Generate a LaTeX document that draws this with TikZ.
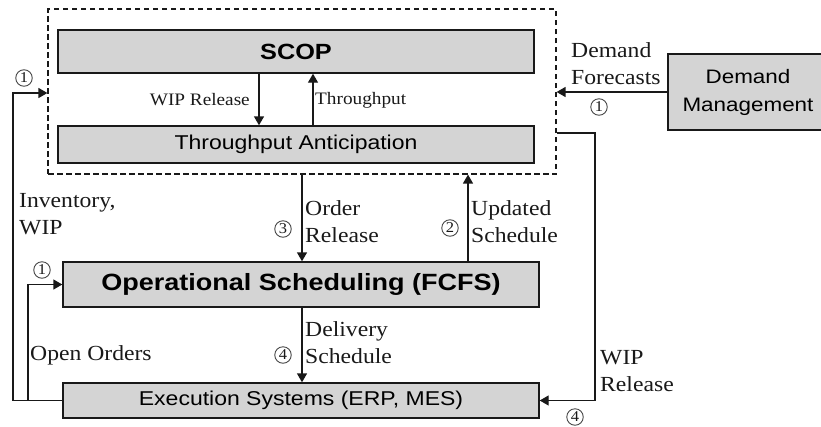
\documentclass[tikz,border=0pt]{standalone}
\usepackage{fontspec}
\usetikzlibrary{arrows.meta}
\newfontfamily\boxfont[FakeStretch=1.15]{Liberation Sans}
\newfontfamily\labfont[FakeStretch=1.1]{Liberation Serif}
\definecolor{boxgray}{RGB}{212,212,212}
\definecolor{ink}{RGB}{25,25,25}
\tikzset{
  x=1pt, y=-1pt,
  box/.style={draw=ink, line width=1.4pt, fill=boxgray, inner sep=0pt, rectangle},
  arr/.style={draw=ink, line width=1.4pt, -{Triangle[length=9pt,width=10pt]}},
  ln/.style={draw=ink, line width=1.4pt},
  lab/.style={font={\labfont\fontsize{21.5}{27}\selectfont}, inner sep=0pt, align=left, text=ink},
  slab/.style={font={\labfont\fontsize{17.5}{21}\selectfont}, inner sep=0pt, text=ink},
  num/.style={circle, draw=ink!80, line width=0.9pt, minimum size=16.5pt, inner sep=0pt, font={\labfont\fontsize{15}{15}\selectfont}, text=ink}
}
\begin{document}
\begin{tikzpicture}
\useasboundingbox (0,0) rectangle (821,426);
% dashed container
\node[draw=ink, line width=1.2pt, dash pattern=on 5.5pt off 3.5pt, minimum width=508pt, minimum height=165pt, inner sep=0pt] (dash) at (302,91.5) {};
% boxes
\node[box, minimum width=476pt, minimum height=43pt, font={\boxfont\bfseries\fontsize{22}{26}\selectfont}] (scop) at (296,51.5) {SCOP};
\node[box, minimum width=476pt, minimum height=37pt, font={\boxfont\fontsize{20}{24}\selectfont}] (ta) at (296,144.5) {Throughput Anticipation};
\node[box, minimum width=160pt, minimum height=76pt, align=center, font={\boxfont\fontsize{19.5}{28}\selectfont}] (dm) at (748,92) {Demand\\Management};
\node[box, minimum width=476pt, minimum height=45pt, font={\boxfont\bfseries\fontsize{23.5}{28}\selectfont}] (ops) at (301,284.5) {Operational Scheduling (FCFS)};
\node[box, minimum width=476pt, minimum height=35pt, font={\boxfont\fontsize{20}{24}\selectfont}] (es) at (301,400.5) {Execution Systems (ERP, MES)};
% coordinates
\coordinate (wr) at (595,400.5);
\coordinate (ol) at (13,400.5);
\coordinate (olt) at (13,93);
\coordinate (il) at (28,400.5);
% inner arrows
\draw[arr] ([xshift=-37pt]scop.south) -- ([xshift=-37pt]ta.north);
\draw[arr] ([xshift=17pt]ta.north) -- ([xshift=17pt]scop.south);
\node[slab, anchor=east] (lwip) at (250,100) {WIP Release};
\node[slab, anchor=west] (ltp) at (315,100) {Throughput};
% demand forecasts
\draw[arr] (dm.west) -- (dm.west -| dash.east);
\node[lab, anchor=west] (ldf) at (571,64) {Demand\\Forecasts};
\node[num] (n1b) at (599,107) {1};
% order release
\draw[arr] (dash.south) -- (dash.south |- ops.north);
\node[lab, anchor=west] (lor) at (305,222) {Order\\Release};
\node[num] (n3) at (283,229) {3};
% updated schedule
\draw[arr] ([xshift=167pt]ops.north) -- ([xshift=167pt]ops.north |- dash.south);
\node[lab, anchor=west] (lus) at (471,222) {Updated\\Schedule};
\node[num] (n2) at (450,228) {2};
% delivery schedule
\draw[arr] (dash.south |- ops.south) -- (dash.south |- es.north);
\node[lab, anchor=west] (lds) at (305,343) {Delivery\\Schedule};
\node[num] (n4a) at (283,355) {4};
% WIP release loop
\draw[arr] ([yshift=-41.5pt]dash.east) -| (wr) -- (es.east);
\node[lab, anchor=west] (lwr) at (600,371) {WIP\\Release};
\node[num] (n4b) at (575,417) {4};
% outer left loop
\draw[ln] (es.west) -- (ol);
\draw[arr] (ol) -- (olt) -- (olt -| dash.west);
\node[num] (n1a) at (24,78) {1};
\node[lab, anchor=west] (linv) at (19,214) {Inventory,\\WIP};
% inner left loop
\draw[arr] (il) |- (ops.west);
\node[num] (n1c) at (42,270) {1};
\node[lab, anchor=west] (loo) at (30,355) {Open Orders};
\end{tikzpicture}
\end{document}
